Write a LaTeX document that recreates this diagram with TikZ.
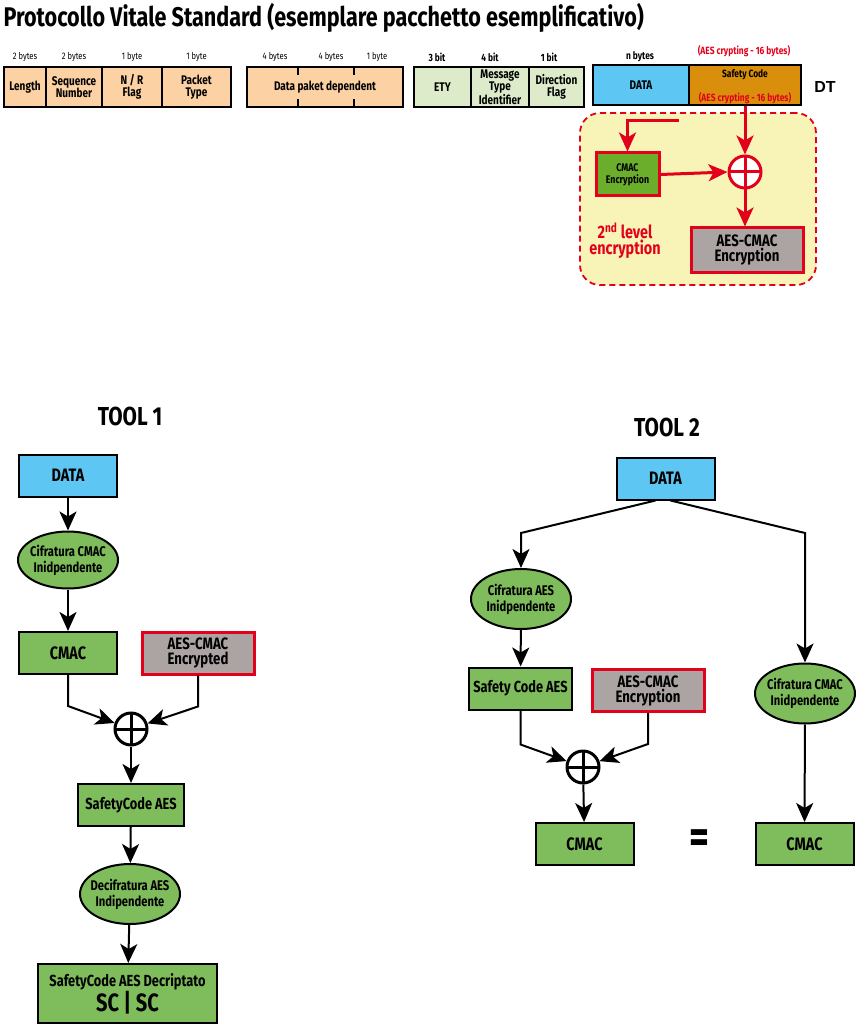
\documentclass[tikz,border=0pt]{standalone}
\usepackage{fontspec}
\setmainfont{Fira Sans}[FakeStretch=0.8]
\newfontfamily\dtfont{Liberation Sans}
\usetikzlibrary{arrows.meta,shapes.geometric}
\definecolor{peach}{HTML}{FCD1A3}
\definecolor{mint}{HTML}{DDEBCB}
\definecolor{sky}{HTML}{5DC6F2}
\definecolor{amber}{HTML}{D98F0B}
\definecolor{leaf}{HTML}{7FBC5C}
\definecolor{moss}{HTML}{6AAE2C}
\definecolor{ash}{HTML}{ABA4A3}
\definecolor{alarm}{HTML}{E3001B}
\definecolor{lemon}{HTML}{F8F4B8}
\newcommand{\fsz}[1]{\fontsize{#1}{#1}\selectfont}
\tikzset{
  field/.style={draw, line width=2, inner sep=0, minimum height=40, align=center, font=\bfseries\fontsize{12.5}{12.5}\selectfont},
  size/.style={font=\fsz{9.5}},
  box/.style={draw, line width=2, fill=leaf, minimum width=98, minimum height=42, inner sep=0, align=center, font=\bfseries\fsz{18}},
  redbox/.style={box, draw=alarm, line width=3, fill=ash, minimum width=112, font=\bfseries\fontsize{16.5}{15}\selectfont},
  cipher/.style={ellipse, draw, line width=2, fill=leaf, minimum width=100, minimum height=60, inner xsep=-6pt, inner ysep=0, align=center, font=\bfseries\fontsize{14}{16}\selectfont},
  xor/.style={circle, draw, line width=3, fill=white, minimum size=32, inner sep=0, path picture={\draw[line width=3] (path picture bounding box.north) -- (path picture bounding box.south) (path picture bounding box.west) -- (path picture bounding box.east);}},
  redxor/.style={xor, draw=alarm, path picture={\draw[alarm, line width=3] (path picture bounding box.north) -- (path picture bounding box.south) (path picture bounding box.west) -- (path picture bounding box.east);}},
  arr/.style={line width=2, -{Stealth[length=19pt,width=17pt,inset=5pt]}},
  redarr/.style={line width=3, draw=alarm, -{Stealth[length=19pt,width=17pt,inset=5pt,alarm]}},
  title/.style={font=\bfseries\fsz{27}},
}
\begin{document}
\begin{tikzpicture}[x=1pt,y=-1pt]
\useasboundingbox (0,0) rectangle (856,1024);
% header
\node[title, anchor=west] (head) at (0,18) {Protocollo Vitale Standard (esemplare pacchetto esemplificativo)};

% packet fields
\node[field, fill=peach, minimum width=42] (len) at (25,87) {Length};
\node[field, fill=peach, minimum width=56] (seq) at (74,87) {Sequence\\Number};
\node[field, fill=peach, minimum width=60] (nr) at (132,87) {N / R\\Flag};
\node[field, fill=peach, minimum width=69] (ptype) at (196.5,87) {Packet\\Type};
\node[size] (s1) at (25,57) {2 bytes};
\node[size] (s2) at (74,57) {2 bytes};
\node[size] (s3) at (132,57) {1 byte};
\node[size] (s4) at (196.5,57) {1 byte};

\node[field, fill=peach, minimum width=156] (dpd) at (325,87) {Data paket dependent};
\draw[line width=2] (298,67) -- (298,75) (354,67) -- (354,75);
\draw[line width=2] (298,99) -- (298,107) (354,99) -- (354,107);
\node[size] (s5) at (275,57) {4 bytes};
\node[size] (s6) at (331,57) {4 bytes};
\node[size] (s7) at (377,57) {1 byte};

\node[field, fill=mint, minimum width=57] (ety) at (442.5,87) {ETY};
\node[field, fill=mint, minimum width=58] (mti) at (500,87) {Message\\Type\\Identifier};
\node[field, fill=mint, minimum width=55] (dir) at (556.5,87) {Direction\\Flag};
\node[size, font=\bfseries\fsz{10.5}] (s8) at (437,57) {3 bit};
\node[size, font=\bfseries\fsz{10.5}] (s9) at (490,57) {4 bit};
\node[size, font=\bfseries\fsz{10.5}] (s10) at (549,57) {1 bit};

\node[field, fill=sky, minimum width=96] (data) at (641,85) {DATA};
\node[field, fill=amber, minimum width=112] (sc) at (745,85) {};
\node[size, font=\bfseries\fsz{10.5}] (sctxt) at (745,75) {Safety Code};
\node[size, font=\bfseries\fsz{10.5}, text=alarm] (aesin) at (745,98) {(AES crypting - 16 bytes)};
\node[size, font=\bfseries\fsz{10.5}, text=alarm] (aesout) at (744,51) {(AES crypting - 16 bytes)};
\node[size, font=\bfseries\fsz{10.5}] (s11) at (640,57) {n bytes};
\node[font=\dtfont\bfseries\fsz{16}] (dt) at (825,87) {DT};

% 2nd level encryption
\node[draw=alarm, dash pattern=on 6 off 4, line width=1.8, fill=lemon, rounded corners=20, minimum width=236, minimum height=172] (lvl) at (698,199) {};
\node[redbox, fill=moss, line width=3, minimum width=63, minimum height=43, font=\bfseries\fontsize{11}{12}\selectfont] (cmacE) at (627.5,174.5) {CMAC\\Encryption};
\node[redxor] (xorR) at (745,172) {};
\node[redbox, minimum height=44] (aesE) at (747,250) {AES-CMAC\\Encryption};
\node[text=alarm, font=\bfseries\fontsize{18}{16}\selectfont, align=center] (lvltxt) at (625,241) {2\textsuperscript{nd} level\\encryption};
\coordinate (feed) at (679,121);
\draw[redarr] (sc.south) -- (xorR);
\draw[redarr] (feed) -| (cmacE.north);
\draw[redarr] (cmacE.east) -- (xorR.west);
\draw[redarr] (xorR.south) -- (xorR.south |- aesE.north);

% TOOL 1
\node[title, font=\bfseries\fsz{26}] (tool1) at (130,416) {TOOL 1};
\node[box, fill=sky] (data1) at (68,475.5) {DATA};
\node[cipher, minimum height=57] (ciph1) at (68,560) {Cifratura CMAC\\Inidpendente};
\node[box] (cmac1) at (68,653) {CMAC};
\node[redbox] (aes1) at (198,653) {AES-CMAC\\Encrypted};
\node[xor] (xor1) at (131,729) {};
\node[box, minimum width=106, font=\bfseries\fsz{16}] (sc1) at (131,805) {SafetyCode AES};
\node[cipher] (deciph1) at (130,894) {Decifratura AES\\Indipendente};
\node[box, minimum width=179, minimum height=59, font=\bfseries\fontsize{16}{23}\selectfont] (dec1) at (127.5,993.5) {SafetyCode AES Decriptato\\{\fsz{25}SC | SC}};
\draw[arr] (data1) -- (ciph1);
\draw[arr] (ciph1) -- (cmac1);
\draw[arr] (cmac1.south) -- ++(0,31) -- (xor1);
\draw[arr] (aes1.south) -- ++(0,31) -- (xor1);
\draw[arr] (xor1) -- (sc1);
\draw[arr] (sc1) -- (deciph1);
\draw[arr] (deciph1) -- (dec1);

% TOOL 2
\node[title, font=\bfseries\fsz{26}] (tool2) at (667,427) {TOOL 2};
\node[box, fill=sky] (data2) at (665.5,478.5) {DATA};
\node[cipher] (ciphA) at (521,599) {Cifratura AES\\Inidpendente};
\node[box, minimum width=103, font=\bfseries\fsz{16}] (sc2) at (520.5,688.5) {Safety Code AES};
\node[redbox] (aes2) at (648,690.5) {AES-CMAC\\Encryption};
\node[cipher] (ciphB) at (805,693.5) {Cifratura CMAC\\Inidpendente};
\node[xor] (xor2) at (583,767) {};
\node[box] (cmac2) at (584.5,844) {CMAC};
\node[font=\bfseries\fsz{48}] (eq) at (699,842) {=};
\node[box] (cmac3) at (804.5,844) {CMAC};
\draw[arr] ([xshift=-10]data2.south) -- (521,533) -- (ciphA);
\draw[arr] ([xshift=5]data2.south) -- (805,533) -- (ciphB);
\draw[arr] (ciphA) -- (sc2);
\draw[arr] (sc2.south) -- ++(0,34) -- (xor2);
\draw[arr] (aes2.south) -- ++(0,31) -- (xor2);
\draw[arr] (xor2) -- (cmac2);
\draw[arr] (ciphB) -- (cmac3);
\end{tikzpicture}
\end{document}
